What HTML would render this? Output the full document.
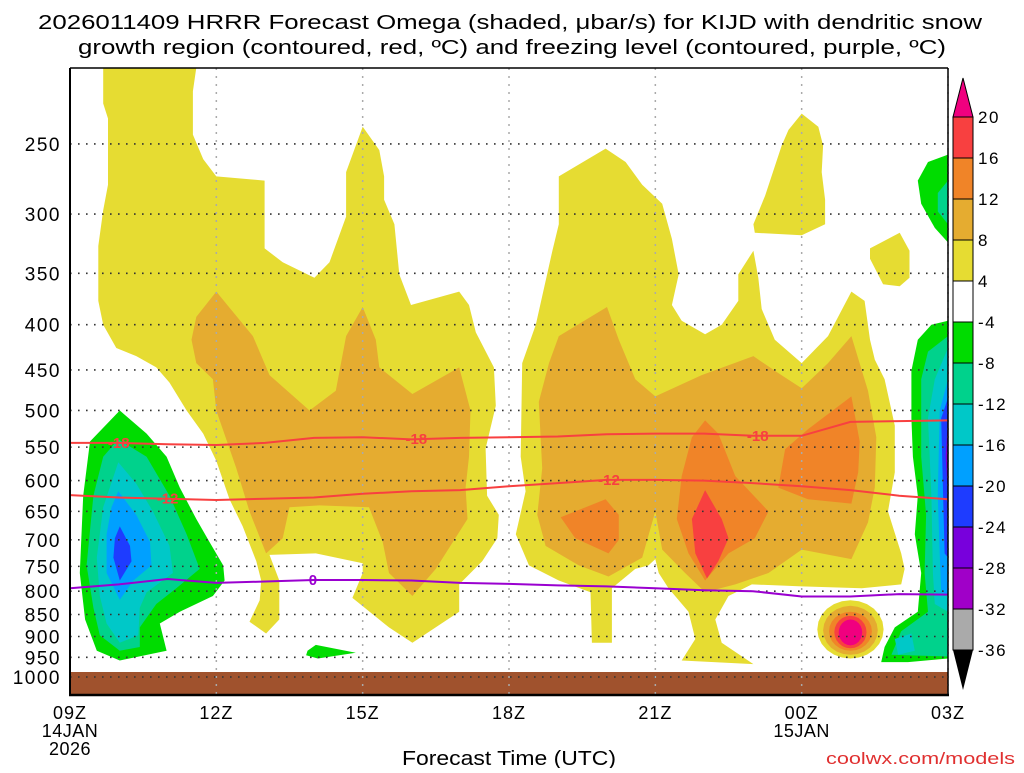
<!DOCTYPE html>
<html><head><meta charset="utf-8"><title>HRRR Omega KIJD</title>
<style>
html,body{margin:0;padding:0;background:#fff;}
body{width:1024px;height:768px;overflow:hidden;position:relative;font-family:"Liberation Sans",sans-serif;}
svg text{font-family:"Liberation Sans",sans-serif;}
</style></head>
<body>
<svg id="chart" width="1024" height="768" viewBox="0 0 1024 768" xmlns="http://www.w3.org/2000/svg">
<g font-size="20" fill="#000">
<text x="38" y="29" textLength="944" lengthAdjust="spacingAndGlyphs">2026011409 HRRR Forecast Omega (shaded, μbar/s) for KIJD with dendritic snow</text>
<text x="78" y="54" textLength="868" lengthAdjust="spacingAndGlyphs">growth region (contoured, red, ºC) and freezing level (contoured, purple, ºC)</text>
</g>
<g id="shading"></g>
<g id="grid"></g>
<g id="lines"></g>
<g id="axes"></g>
<g id="cbar"></g>
<text x="402" y="765" font-size="20" textLength="214" lengthAdjust="spacingAndGlyphs">Forecast Time (UTC)</text>
<text x="826" y="764" font-size="17" fill="#e03030" textLength="189" lengthAdjust="spacingAndGlyphs">coolwx.com/models</text>
</svg>
<script>
// ---- data ----
const xTickHours = [0,3,6,9,12,15,18];
const xTickLabels = ["09Z","12Z","15Z","18Z","21Z","00Z","03Z"];
const yLevels = [250,300,350,400,450,500,550,600,650,700,750,800,850,900,950,1000];
const contourHours = [0,1,2,3,4,5,6,7,8,9,10,11,12,13,14,15,16,17,18];
const minus18Level = [544,544,546,547,544,537,536,539,537,536,535,532,531,531,534,534,515,514,513];
const minus12Level = [623,627,629,631,629,627,621,617,615,609,604,599,599,600,604,609,615,624,630];
const freezingLevel = [794,786,775,783,780,777,777,778,783,785,788,790,794,798,800,811,811,806,807];
const cbarLabels = ["20","16","12","8","4","-4","-8","-12","-16","-20","-24","-28","-32","-36"];
const cbarColors = ["#f84040","#f08428","#e5ac30","#e6dc32","#ffffff","#00dc00","#00d28c","#00c8c8","#00a0ff","#1e3cff","#7800dc","#a000c8","#aaaaaa"];

const C = {y:"#e6dc32",a:"#e5ac30",o:"#f08428",r:"#f84040",m:"#f0007f",g:"#00dc00",t:"#00d28c",c:"#00c8c8",lb:"#00a0ff",b:"#1e3cff",p:"#7800dc"};

const yellowLeft = [[0.68,205],[2.59,205],[2.52,218],[2.52,244],[2.73,260],[3.0,272],[3.99,275],[3.99,328],[4.36,340],[5.01,354],[5.32,340],[5.66,302],[5.66,269],[6.0,239],[6.34,254],[6.44,272],[6.44,289],[6.65,308],[6.75,351],[6.99,380],[7.98,367],[8.18,380],[8.32,408],[8.69,447],[8.73,494],[8.52,552],[8.55,624],[8.79,656],[8.76,697],[8.45,740],[7.98,786],[7.98,844],[7.02,915],[6.54,879],[5.79,814],[6.0,763],[6.0,744],[5.04,725],[4.09,728],[4.29,778],[4.29,861],[4.02,893],[3.68,866],[3.89,819],[3.92,778],[3.82,740],[3.54,676],[3.27,630],[3.0,570],[2.73,531],[2.39,500],[2.04,465],[1.77,447],[1.36,434],[0.95,425],[0.68,400],[0.58,376],[0.58,326],[0.68,297],[0.78,278],[0.78,234],[0.68,225]];
const amberLeft = [[3.0,367],[3.75,412],[4.09,456],[4.91,500],[5.45,475],[5.66,412],[6.0,382],[6.27,416],[6.34,447],[7.02,479],[7.98,447],[8.21,500],[8.18,564],[8.11,611],[8.15,663],[7.5,755],[7.02,810],[6.54,763],[6.41,704],[6.13,643],[5.11,640],[4.5,643],[4.36,697],[4.02,725],[3.68,650],[3.41,581],[3.0,500],[2.93,461],[2.59,442],[2.49,416],[2.59,392]];
const greenLeft = [[1.02,500],[1.57,531],[1.98,564],[2.25,611],[2.59,663],[2.86,704],[3.14,748],[3.17,778],[2.93,810],[2.25,844],[1.84,870],[1.98,934],[1.02,958],[0.55,934],[0.31,861],[0.2,763],[0.27,624],[0.41,542]];
const tealLeft = [[0.99,539],[1.57,564],[2.04,624],[2.39,690],[2.66,755],[2.18,794],[1.77,827],[1.43,879],[1.43,925],[1.02,934],[0.61,897],[0.48,835],[0.34,748],[0.48,624],[0.68,564]];
const cyanLeft = [[0.99,572],[1.36,605],[1.7,650],[2.04,711],[2.11,763],[1.57,802],[1.43,835],[1.4,897],[1.02,915],[0.75,870],[0.61,810],[0.55,733],[0.68,643]];
const ltBlueLeft = [[0.99,617],[1.36,656],[1.64,704],[1.67,748],[1.3,778],[1.02,818],[0.75,763],[0.75,690],[0.85,643]];
const blueLeft = [[1.02,676],[1.23,711],[1.26,740],[1.02,778],[0.89,733],[0.92,697]];
const greenSmall = [[4.87,934],[5.04,920],[5.86,939],[5.08,953],[4.84,945]];

const yellowRight = [[10.02,272],[10.98,253],[11.39,262],[11.73,278],[12.14,292],[12.34,320],[12.48,351],[12.34,380],[12.54,396],[13.02,410],[13.36,400],[13.7,376],[13.7,351],[14.01,330],[14.11,354],[14.18,384],[14.45,416],[15.0,442],[15.54,412],[16.02,367],[16.29,376],[16.4,416],[16.5,438],[16.7,461],[16.91,520],[16.91,587],[16.77,650],[17.04,725],[17.11,755],[17.04,786],[16.23,794],[15.0,790],[13.98,786],[13.5,810],[13.23,861],[13.36,915],[14.01,967],[12.54,958],[12.82,906],[12.68,844],[12.27,794],[12.07,763],[12.0,736],[11.86,748],[11.59,755],[11.11,794],[11.11,915],[10.7,915],[10.67,802],[10.02,778],[9.41,748],[9.14,690],[9.34,617],[9.24,564],[9.27,442],[9.55,400],[9.89,330],[10.02,308]];
const yellowTop = [[15.0,231],[15.34,239],[15.44,251],[15.41,269],[15.48,289],[15.48,308],[15.0,317],[14.04,315],[14.01,308],[14.25,286],[14.59,251],[14.73,241]];
const yellowSmall = [[16.4,328],[17.01,315],[17.21,330],[17.21,354],[17.01,362],[16.67,360],[16.4,337]];
const amberRight = [[11.01,382],[11.25,416],[11.59,461],[12.0,482],[12.95,456],[14.01,434],[14.45,451],[15.0,472],[15.54,442],[16.02,412],[16.36,475],[16.53,536],[16.5,611],[16.36,669],[16.02,736],[15.0,718],[14.32,763],[13.64,786],[13.02,802],[12.61,763],[12.14,718],[12.0,650],[11.73,733],[11.04,770],[10.43,748],[9.75,711],[9.58,656],[9.68,581],[9.61,489],[9.82,442],[10.02,412]];
const orangeA = [[10.06,660],[10.98,630],[11.25,656],[11.25,700],[11.04,725],[10.36,697]];
const orangeB = [[13.02,513],[13.29,531],[13.64,593],[14.32,650],[14.04,697],[13.5,725],[13.02,778],[12.68,725],[12.44,663],[12.54,593],[12.75,536]];
const orangeC = [[16.02,482],[16.19,542],[16.16,587],[16.02,637],[15.13,630],[14.52,611],[14.66,553],[15.13,525]];
const redCore = [[13.02,615],[13.36,663],[13.5,697],[13.29,740],[13.06,774],[12.82,725],[12.75,663]];
// bottom blob rings: [halfWidthHours, topHPa, bottomHPa]
const blobCenterHour = 16.0;
const blobRings = [[0.68,819,953],[0.56,831,944],[0.44,844,934],[0.33,853,928],[0.24,861,921]];
const blobColors = ["y","a","o","r","m"];

const greenRight = [[18,396],[17.66,400],[17.38,416],[17.25,451],[17.25,510],[17.28,564],[17.38,624],[17.32,690],[17.45,763],[17.38,844],[16.91,879],[16.7,925],[16.63,962],[17.18,962],[18,953]];
const tealRight = [[18,412],[17.59,429],[17.45,461],[17.45,564],[17.55,656],[17.52,763],[17.59,844],[17.04,888],[16.84,944],[18,948]];
const cyanRight = [[18,425],[17.73,461],[17.59,510],[17.66,624],[17.69,763],[17.73,827],[18,844]];
const cyanBottom = [[16.91,906],[17.25,893],[17.32,934],[16.98,944]];
const ltBlueRight = [[18,461],[17.83,500],[17.79,624],[17.83,725],[17.86,802],[18,810]];
const blueRight = [[18,484],[17.86,510],[17.9,624],[17.93,725],[18,733]];
const purpleRight = [[18,510],[17.95,564],[18,624]];
const greenTopRight = [[18,257],[17.59,262],[17.38,275],[17.45,292],[17.73,311],[18,323]];
const tealTopRight = [[18,275],[17.79,284],[17.79,298],[18,308]];

// ---- scales ----
const X0=70, X1=948, Ytop=68, Ybot=695;
function X(h){return X0 + h*(X1-X0)/18;}
function Y(p){return 677 - 384.5*Math.log(1000/p);}
const NS="http://www.w3.org/2000/svg";
function mk(tag, parent){const e=document.createElementNS(NS,tag);parent.appendChild(e);return e;}

const shading=document.getElementById('shading');
const defs=mk('defs',document.getElementById('chart'));
const cp=mk('clipPath',defs);cp.setAttribute('id','plotclip');
const cr=mk('rect',cp);cr.setAttribute('x',X0);cr.setAttribute('y',Ytop);cr.setAttribute('width',X1-X0);cr.setAttribute('height',Ybot-Ytop);
shading.setAttribute('clip-path','url(#plotclip)');

function poly(pts,color,name){
  const e=mk('polygon',shading);
  e.setAttribute('points',pts.map(q=>X(q[0]).toFixed(1)+','+Y(q[1]).toFixed(1)).join(' '));
  e.setAttribute('fill',color);
  
  
}
poly(yellowLeft,C.y,'omega-4-8-left');
poly(yellowRight,C.y,'omega-4-8-right');
poly(yellowTop,C.y,'omega-4-8-top');
poly(yellowSmall,C.y,'omega-4-8-small');
poly(amberLeft,C.a,'omega-8-12-left');
poly(amberRight,C.a,'omega-8-12-right');
poly(orangeA,C.o,'omega-12-16-a');
poly(orangeB,C.o,'omega-12-16-b');
poly(orangeC,C.o,'omega-12-16-c');
poly(redCore,C.r,'omega-16-20-core');
blobRings.forEach((r,i)=>{
  const pts=[];
  const pc=Math.sqrt(r[1]*r[2]);
  for(let k=0;k<24;k++){
    const a=k/24*2*Math.PI;
    const lp=Math.log(pc)+Math.sin(a)*(Math.log(r[2])-Math.log(r[1]))/2;
    pts.push([blobCenterHour+Math.cos(a)*r[0],Math.exp(lp)]);
  }
  poly(pts,C[blobColors[i]],'omega-blob-ring-'+i);
});
poly(greenLeft,C.g,'omega-neg4-neg8-left');
poly(tealLeft,C.t,'omega-neg8-neg12-left');
poly(cyanLeft,C.c,'omega-neg12-neg16-left');
poly(ltBlueLeft,C.lb,'omega-neg16-neg20-left');
poly(blueLeft,C.b,'omega-neg20-neg24-left');
poly(greenSmall,C.g,'omega-neg4-small');
poly(greenRight,C.g,'omega-neg4-neg8-right');
poly(tealRight,C.t,'omega-neg8-neg12-right');
poly(cyanRight,C.c,'omega-neg12-neg16-right');
poly(cyanBottom,C.c,'omega-neg12-bottom');
poly(ltBlueRight,C.lb,'omega-neg16-neg20-right');
poly(blueRight,C.b,'omega-neg20-neg24-right');
poly(purpleRight,C.p,'omega-neg24-neg28-right');
poly(greenTopRight,C.g,'omega-neg4-top-right');
poly(tealTopRight,C.t,'omega-neg8-top-right');
const gr=mk('rect',shading);
gr.setAttribute('x',X0);gr.setAttribute('y',672);gr.setAttribute('width',X1-X0);gr.setAttribute('height',Ybot-672);gr.setAttribute('fill','#a0522d');



// grid
const grid=document.getElementById('grid');
yLevels.forEach(p=>{
  const l=mk('line',grid);
  l.setAttribute('x1',X0);l.setAttribute('x2',X1);l.setAttribute('y1',Y(p));l.setAttribute('y2',Y(p));
  l.setAttribute('stroke','#333');l.setAttribute('stroke-width','1.6');l.setAttribute('stroke-dasharray','1.6 6.4');
  
  
});
xTickHours.forEach(h=>{
  const l=mk('line',grid);
  l.setAttribute('x1',X(h));l.setAttribute('x2',X(h));l.setAttribute('y1',Ytop);l.setAttribute('y2',Ybot);
  l.setAttribute('stroke','#aaa');l.setAttribute('stroke-width','1.5');l.setAttribute('stroke-dasharray','2 6');
  
  
});

// contour lines
const lines=document.getElementById('lines');
function cline(arr,color,name){
  const e=mk('polyline',lines);
  e.setAttribute('points',contourHours.map((h,i)=>X(h).toFixed(1)+','+Y(arr[i]).toFixed(1)).join(' '));
  e.setAttribute('fill','none');e.setAttribute('stroke',color);e.setAttribute('stroke-width','2');
  
  
}
cline(minus18Level,'#f84040','contour-minus18');
cline(minus12Level,'#f84040','contour-minus12');
cline(freezingLevel,'#9a00d0','freezing-level-line');
function interp(arr,h){const i=Math.min(17,Math.floor(h));const f=h-i;return arr[i]+(arr[i+1]-arr[i])*f;}
function clabel(arr,h,txt,color,name){
  const y=Y(interp(arr,h)), x=X(h);
  const t=mk('text',lines);
  t.setAttribute('x',x);t.setAttribute('y',y+5);t.setAttribute('text-anchor','middle');t.setAttribute('font-size','15');t.setAttribute('font-weight','bold');t.setAttribute('fill',color);
  t.textContent=txt;
  
  
}
clabel(minus18Level,1.0,'-18','#f84040','label-minus18-a');
clabel(minus18Level,7.1,'-18','#f84040','label-minus18-b');
clabel(minus18Level,14.1,'-18','#f84040','label-minus18-c');
clabel(minus12Level,2.0,'-12','#f84040','label-minus12-a');
clabel(minus12Level,11.05,'-12','#f84040','label-minus12-b');
clabel(freezingLevel,4.98,'0','#9a00d0','label-freezing-0');

// axes
const axes=document.getElementById('axes');
function ln(x1,y1,x2,y2,w,name){const l=mk('line',axes);l.setAttribute('x1',x1);l.setAttribute('y1',y1);l.setAttribute('x2',x2);l.setAttribute('y2',y2);l.setAttribute('stroke','#000');l.setAttribute('stroke-width',w);
  
  }
ln(X0,Ytop,X1,Ytop,1.5,'plot-top-border');
ln(X0,Ytop,X0,Ybot,2,'y-axis-line');
ln(X1,Ytop,X1,Ybot,1.5,'plot-right-border');
ln(X0-1,Ybot,X1+1,Ybot,2.5,'x-axis-line');
yLevels.forEach(p=>{
  const t=mk('text',axes);
  t.setAttribute('x',61);t.setAttribute('y',Y(p)+7);t.setAttribute('text-anchor','end');t.setAttribute('font-size','19');t.setAttribute('letter-spacing','1.5');
  t.textContent=p;
  
  
});
xTickHours.forEach((h,i)=>{
  const t=mk('text',axes);
  t.setAttribute('x',X(h));t.setAttribute('y',719);t.setAttribute('text-anchor','middle');t.setAttribute('font-size','18');t.setAttribute('letter-spacing','1');
  t.textContent=xTickLabels[i];
  
  
});
[[0,737,'14JAN'],[0,755,'2026'],[15,737,'15JAN']].forEach(d=>{
  const t=mk('text',axes);
  t.setAttribute('x',X(d[0]));t.setAttribute('y',d[1]);t.setAttribute('text-anchor','middle');t.setAttribute('font-size','18');t.setAttribute('letter-spacing','0.5');
  t.textContent=d[2];
  
  
});

// colorbar
const cbar=document.getElementById('cbar');
const cbTop=117, cbStep=41, cbX=953, cbW=20;
const tri1=mk('polygon',cbar);
tri1.setAttribute('points',`${cbX},${cbTop} ${cbX+cbW},${cbTop} ${cbX+cbW/2},78`);
tri1.setAttribute('fill','#f0007f');tri1.setAttribute('stroke','#000');


cbarColors.forEach((c,i)=>{
  const r=mk('rect',cbar);
  r.setAttribute('x',cbX);r.setAttribute('y',cbTop+i*cbStep);r.setAttribute('width',cbW);r.setAttribute('height',cbStep);
  r.setAttribute('fill',c);r.setAttribute('stroke','#000');
  
  
});
const yEnd=cbTop+cbarColors.length*cbStep;
const tri2=mk('polygon',cbar);
tri2.setAttribute('points',`${cbX},${yEnd} ${cbX+cbW},${yEnd} ${cbX+cbW/2},690`);
tri2.setAttribute('fill','#000');


cbarLabels.forEach((s,i)=>{
  const t=mk('text',cbar);
  t.setAttribute('x',978);t.setAttribute('y',cbTop+i*cbStep+6);t.setAttribute('font-size','17');t.setAttribute('letter-spacing','1.5');
  t.textContent=s;
  
  
});
</script>
</body></html>
